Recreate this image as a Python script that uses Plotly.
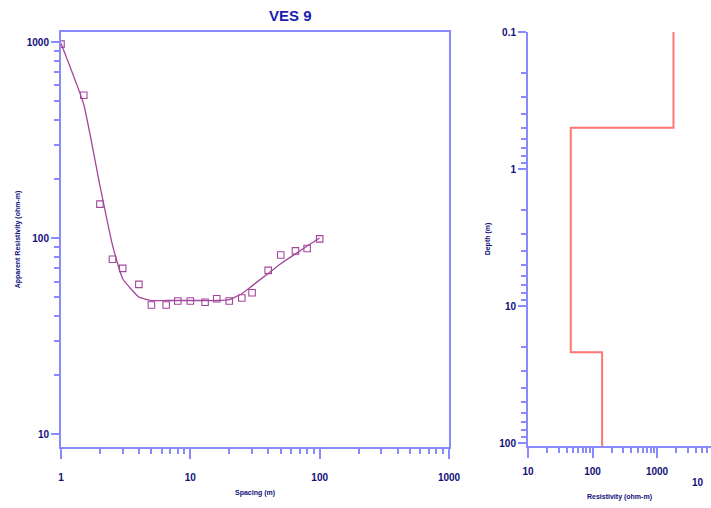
import plotly.graph_objects as go

# ---------------- data ----------------
spacing_obs = [1, 1.5, 2, 2.5, 3, 4, 5, 6.5, 8, 10, 13, 16, 20, 25, 30, 40, 50, 65, 80, 100]
rho_obs = [975, 535, 149, 78, 70, 58, 45.5, 45.5, 47.7, 47.7, 47, 49, 47.7, 49.4, 52.6, 68.4, 82, 86, 88.5, 99]
spacing_fit = [1, 1.5, 2, 2.5, 3, 4, 5, 6.5, 8, 10, 13, 16, 20, 25, 30, 40, 50, 65, 80, 100]
rho_fit = [985, 480, 185, 92, 62, 50, 48, 48, 48, 48, 48, 48, 48.5, 52, 57, 66, 74, 83, 91, 100]

layer_res = [1800, 46, 141]
layer_top = [0.1, 0.5, 21.8]
layer_bottom = [0.5, 21.8, 120]

x_ticks_left = [1, 10, 100, 1000]
y_ticks_left = [10, 100, 1000]
depth_ticks = [0.1, 1, 10, 100]
res_ticks = [10, 100, 1000]

# ---------------- style ----------------
W, H = 711, 508
AX = "#8a8aff"
LBL = "#10107a"
CURVE = "#a4479c"
RED = "#ff7676"
TF = dict(family="Liberation Sans", size=10, color=LBL, weight="bold")
SF = dict(family="Liberation Sans", size=7, color=LBL, weight="bold")

def minors(lo, hi):
    out = []
    d = lo
    while d < hi:
        out += [d * k for k in range(2, 10)]
        d *= 10
    return out

def dx(px):
    return px / W

def dy(px):
    return 1 - px / H

step_x, step_y = [], []
for r, t, b in zip(layer_res, layer_top, layer_bottom):
    step_x += [r, r]
    step_y += [t, b]

fig = go.Figure()
fig.add_trace(go.Scatter(x=spacing_fit, y=rho_fit, mode="lines", line_shape="spline",
                         line=dict(color=CURVE, width=1.3, smoothing=0.4), xaxis="x", yaxis="y",
                         showlegend=False))
fig.add_trace(go.Scatter(x=spacing_obs, y=rho_obs, mode="markers",
                         marker=dict(symbol="square-open", size=6.5, color=CURVE,
                                     line=dict(width=1.1, color=CURVE)),
                         xaxis="x", yaxis="y", showlegend=False))
fig.add_trace(go.Scatter(x=step_x, y=step_y, mode="lines",
                         line=dict(color=RED, width=2), xaxis="x2", yaxis="y2",
                         showlegend=False))

# left panel geometry
Lx0, Lx1 = 61, 449
Ly0, Ly1 = 32, 447
left_yrange = [0.934, 3.051]
left_xrange = [0, 3]
# right panel geometry
Rx0, Rx1 = 528, 711
Ry0, Ry1 = 32, 446
right_xrange = [1, 1 + (Rx1 - Rx0) / 64.5]
right_yrange = [-1 + (Ry1 - Ry0) / 137.0, -1]

common = dict(type="log", showgrid=False, zeroline=False, linecolor=AX, linewidth=2,
              tickcolor=AX, tickwidth=2, tickfont=TF, automargin=False)

fig.update_layout(
    width=W, height=H, margin=dict(l=0, r=0, t=0, b=0),
    paper_bgcolor="white", plot_bgcolor="white",
    xaxis=dict(common, domain=[dx(Lx0), dx(Lx1)], range=left_xrange, anchor="y",
               tickvals=x_ticks_left, ticktext=[str(v) for v in x_ticks_left],
               ticks="outside", ticklen=10, mirror=True, ticklabelstandoff=10,
               minor=dict(tickvals=minors(1, 1000), ticks="outside", ticklen=5,
                          tickcolor=AX, tickwidth=2),
               title=dict(text="Spacing (m)", font=SF, standoff=8)),
    yaxis=dict(common, domain=[dy(Ly1), dy(Ly0)], range=left_yrange, anchor="x",
               tickvals=y_ticks_left, ticktext=[str(v) for v in y_ticks_left],
               ticks="outside", ticklen=8, mirror=True,
               minor=dict(tickvals=minors(10, 1000), ticks="outside", ticklen=5,
                          tickcolor=AX, tickwidth=2),
               title=dict(text="Apparent Resistivity (ohm-m)", font=SF, standoff=5)),
    xaxis3=dict(type="log", overlaying="x", side="top", anchor="y", range=left_xrange,
                tickvals=[10, 100], ticks="inside", ticklen=10, tickcolor=AX, tickwidth=2,
                showticklabels=False, showgrid=False, showline=False, automargin=False),
    yaxis3=dict(type="log", overlaying="y", side="right", anchor="x", range=left_yrange,
                tickvals=[100], ticks="inside", ticklen=10, tickcolor=AX, tickwidth=2,
                showticklabels=False, showgrid=False, showline=False, automargin=False),
    xaxis2=dict(common, domain=[dx(Rx0), 1.0], range=right_xrange, anchor="y2",
                tickvals=res_ticks, ticktext=[str(v) for v in res_ticks],
                ticks="outside", ticklen=10, showline=True, ticklabelstandoff=5,
                minor=dict(tickvals=minors(10, 10000), ticks="outside", ticklen=5,
                           tickcolor=AX, tickwidth=2),
                title=dict(text="Resistivity (ohm-m)", font=SF, standoff=18)),
    yaxis2=dict(common, domain=[dy(Ry1), dy(Ry0)], range=right_yrange, anchor="x2",
                tickvals=depth_ticks, ticktext=[str(v) for v in depth_ticks],
                ticks="outside", ticklen=8,
                minor=dict(tickvals=minors(0.1, 100), ticks="outside", ticklen=5,
                           tickcolor=AX, tickwidth=2),
                title=dict(text="Depth (m)", font=SF, standoff=8)),
    xaxis4=dict(type="log", overlaying="x2", side="top", anchor="y2", range=right_xrange,
                tickvals=[100, 1000], ticks="inside", ticklen=10, tickcolor=AX, tickwidth=2,
                showticklabels=False, showgrid=False, showline=True, linecolor=AX,
                linewidth=2, automargin=False),
)

fig.add_annotation(text="VES 9", x=dx(290), y=dy(16), xref="paper", yref="paper",
                   xanchor="center", yanchor="middle", showarrow=False,
                   font=dict(family="Liberation Sans", size=15, color="#1c1cb0", weight="bold"))
fig.add_annotation(text="10", x=dx(698), y=dy(482), xref="paper", yref="paper",
                   xanchor="center", yanchor="middle", showarrow=False, font=TF)

fig.write_html("out.html")
